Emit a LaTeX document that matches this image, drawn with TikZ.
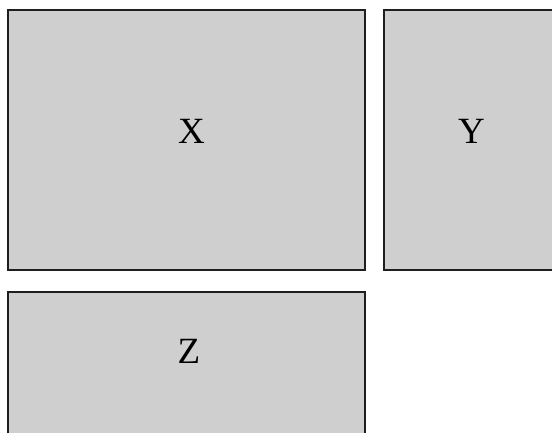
\documentclass[tikz,border=0pt]{standalone}
\usepackage{fontspec}
\setmainfont{Liberation Serif}
\definecolor{panelgray}{RGB}{207,207,207}
\definecolor{edgegray}{RGB}{30,30,30}

\begin{document}
\begin{tikzpicture}[x=1pt,y=-1pt,
  panel/.style={fill=panelgray,draw=edgegray,line width=1.5pt},
  letter/.style={font=\fontsize{37}{37}\selectfont,inner sep=0pt}]
  \useasboundingbox (0,0) rectangle (552,432);
  \clip (0,0) rectangle (552,432);
  \foreach \x/\y/\w/\h in {8/10/357/260, 384/10/200/260, 8/292/357/200} {
    \draw[panel] (\x,\y) rectangle +(\w,\h);
  }
  \node[letter] (x) at (191.5,131.5) {X};
  \node[letter] (y) at (471.5,131.5) {Y};
  \node[letter] (z) at (189,351) {Z};
\end{tikzpicture}
\end{document}
